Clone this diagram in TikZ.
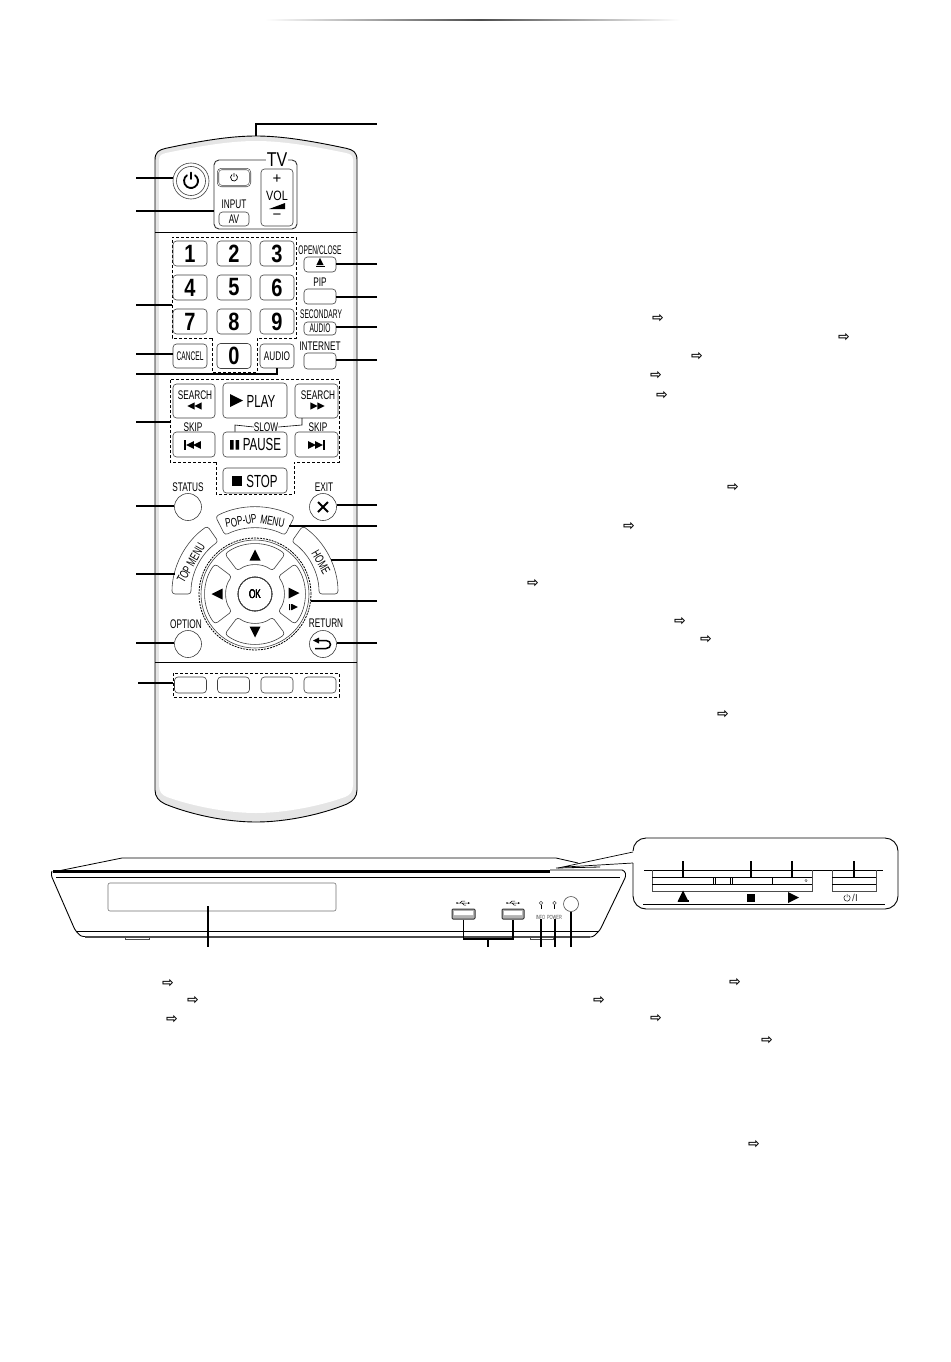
\documentclass[tikz,border=0pt]{standalone}
\usepackage{fontspec}
\setmainfont{Liberation Sans}
\newfontfamily\wideish[FakeStretch=0.8]{Liberation Sans}
\newfontfamily\narrowf[FakeStretch=0.66]{Liberation Sans}
\newfontfamily\tightf[FakeStretch=0.53]{Liberation Sans}
\newfontfamily\symf{DejaVu Sans}
\tikzset{
  btn/.style={draw=black!75, line width=0.6pt, rounded corners=3.5pt, inner sep=0pt, fill=white},
  roundbtn/.style={draw=black!75, line width=0.6pt, circle, inner sep=0pt, minimum size=27pt},
  numbtn/.style={btn, minimum width=34pt, minimum height=25pt, font=\wideish\bfseries\fontsize{25}{25}\selectfont},
  colbtn/.style={btn, minimum width=32pt, minimum height=16pt},
  lab/.style={inner sep=0pt, font=\narrowf\fontsize{12.5}{13}\selectfont},
  labtight/.style={inner sep=0pt, font=\tightf\fontsize{12.5}{13}\selectfont},
  bigtext/.style={inner sep=0pt, font=\narrowf\fontsize{17.5}{18}\selectfont},
  call/.style={line width=1.3pt},
  dashbox/.style={line width=1pt, dash pattern=on 3pt off 2pt},
  refarrow/.style={inner sep=0pt, yshift=-1.5pt, font=\symf\bfseries\fontsize{14}{14}\selectfont},
}
% filled triangle: centre, rotation, size
\newcommand\tri[3]{\fill[shift={(#1)},rotate=#2,scale=#3] (-1,-1) -- (1,0) -- (-1,1) -- cycle;}
% standby symbol: centre, radius, width
\newcommand\standby[3]{\draw[shift={(#1)},line width=#3,line cap=round] (305:#2) arc[start angle=305,end angle=595,radius=#2] (0,-1.2*#2) -- (0,-0.3*#2);}
% button of the ring around the pad: start, end, inner, outer
\newcommand\ringbtn[4]{\draw[draw=black!75,line width=0.6pt,rounded corners=3pt,fill=white] ([shift={(#1:#4)}]pad) arc[start angle=#1,end angle=#2,radius=#4] -- ([shift={(#2:#3)}]pad) arc[start angle=#2,end angle=#1,radius=#3] -- cycle;}
% usb symbol
\newcommand\usbmark[1]{\draw[shift={(#1)},line width=0.5pt] (-6,0) -- (5,0) (-3,0) -- (-1,-2) -- (2,-2) (-1,0) -- (1,2) -- (3,2);\fill[shift={(#1)}] (5,-1) -- (7,0) -- (5,1) -- cycle (-6,0) circle (0.9);}
\begin{document}
\begin{tikzpicture}[x=1pt, y=-1pt]
\useasboundingbox (0,0) rectangle (950,1362);
\fill[white] (0,0) rectangle (950,1362);
% Rule at the top of the page
\shade[left color=white, right color=black!70] (265,19.5) rectangle (480,21);
\shade[left color=black!70, right color=white] (480,19.5) rectangle (680,21);

% Body of the remote
\draw[line width=0.9pt, fill=black!10] (155,160) .. controls (155,152) and (159,150) .. (165,148.5) .. controls (200,141) and (230,136) .. (256,136) .. controls (282,136) and (312,141) .. (347,148.5) .. controls (353,150) and (357,152) .. (357,160) -- (357,790) .. controls (357,797) and (353,801) .. (347,804) .. controls (320,815) and (285,822) .. (256,822) .. controls (227,822) and (192,815) .. (165,804) .. controls (159,801) and (155,797) .. (155,790) -- cycle;
\fill[white] (159,160) .. controls (159,155) and (162,154) .. (166,153) .. controls (200,146) and (230,141) .. (256,141) .. controls (282,141) and (312,146) .. (346,153) .. controls (350,154) and (353,155) .. (353,160) -- (353,785) .. controls (353,792) and (350,795) .. (345,797) .. controls (320,806) and (285,813) .. (256,813) .. controls (227,813) and (192,806) .. (167,797) .. controls (162,795) and (159,792) .. (159,785) -- cycle;
\draw[line width=0.7pt] (155,232) -- (357,232);
\draw[line width=0.7pt] (155,662) -- (357,662);
\coordinate (top-edge) at (256,136);

% Power
\node[circle, draw=black!75, line width=0.6pt, minimum size=36pt, inner sep=0pt] (power) at (191,181) {};
\node[circle, draw=black!75, line width=0.6pt, minimum size=29pt, inner sep=0pt] at (191,181) {};
\standby{191,181}{7}{1.8pt}

% TV group
\draw[draw=black!80, line width=0.9pt, rounded corners=5pt] (214,160) rectangle (297,229);
\node[inner sep=1pt, fill=white, font=\wideish\fontsize{20}{20}\selectfont] (tvlab) at (277,160) {TV};
\node[btn, double, double distance=0.8pt, minimum width=32pt, minimum height=17pt] (tvpower) at (234,177.5) {};
\standby{234,177.5}{3.5}{0.7pt}
\node[lab] (inputlab) at (234,204) {INPUT};
\node[btn, minimum width=30pt, minimum height=14pt, font=\narrowf\fontsize{12.5}{13}\selectfont] (av) at (234,219) {AV};
\node[btn, minimum width=32pt, minimum height=57pt] (vol) at (277,197.5) {};
\node[font=\fontsize{15}{15}\selectfont, inner sep=0pt] (volplus) at (277,179) {+};
\node[inner sep=0pt, font=\wideish\fontsize{13.5}{14}\selectfont] (vollab) at (277,196) {VOL};
\fill (269,209) -- (285,209) -- (285,203) -- cycle;
\node[font=\fontsize{15}{15}\selectfont, inner sep=0pt] (volminus) at (277,217) {−};

% Numbers
\draw[dashbox] (212,338) -- (172,338) -- (172,237) -- (296,237) -- (296,338) -- (257,338) -- (257,372) -- (212,372) -- cycle;
\foreach \n/\x/\y in {1/190/253.5, 2/234/253.5, 3/277/253.5, 4/190/287.5, 5/234/287.5, 6/277/287.5, 7/190/321.5, 8/234/321.5, 9/277/321.5, 0/234/356}
  \node[numbtn] (num\n) at (\x,\y) {\n};
\node[btn, minimum width=34pt, minimum height=24pt, font=\tightf\fontsize{12.5}{13}\selectfont] (cancel) at (190,356) {CANCEL};
\node[btn, minimum width=34pt, minimum height=24pt, font=\narrowf\fontsize{12.5}{13}\selectfont] (audio) at (277,356) {AUDIO};

% Right column
\node[labtight] (openlab) at (320,250) {OPEN/CLOSE};
\node[btn, minimum width=32pt, minimum height=15pt] (eject) at (320,264.5) {};
\tri{320,261.5}{90}{3.6}
\fill (315.5,265.5) rectangle (325,266.8);
\node[lab] (piplab) at (320,282) {PIP};
\node[btn, minimum width=32pt, minimum height=15pt] (pip) at (320,296.5) {};
\node[labtight] (seclab) at (321,314) {SECONDARY};
\node[btn, minimum width=32pt, minimum height=13pt, font=\tightf\fontsize{12.5}{13}\selectfont] (secaudio) at (320,328.5) {AUDIO};
\node[lab] (netlab) at (320,346) {INTERNET};
\node[btn, minimum width=32pt, minimum height=16pt] (internet) at (320,361) {};

% Transport
\draw[dashbox] (216,462) -- (170,462) -- (170,379) -- (339,379) -- (339,462) -- (294,462) -- (294,494) -- (216,494) -- cycle;
\node[btn, minimum width=42pt, minimum height=34pt] (searchback) at (194,401) {};
\node[lab] (searchbacklab) at (195,395) {SEARCH};
\tri{191,406}{180}{3.6}
\tri{198,406}{180}{3.6}
\node[btn, minimum width=64pt, minimum height=35pt] (play) at (255,400.5) {};
\tri{236.5,400.5}{0}{6.5}
\node[bigtext] (playlab) at (261,401) {PLAY};
\node[btn, minimum width=43pt, minimum height=34pt] (searchfwd) at (316.5,401) {};
\node[lab] (searchfwdlab) at (318,395) {SEARCH};
\tri{314,406}{0}{3.6}
\tri{321,406}{0}{3.6}
\node[lab] (skipbacklab) at (193,427) {SKIP};
\node[lab] (slowlab) at (266,427) {SLOW};
\node[lab] (skipfwdlab) at (318,427) {SKIP};
\node[btn, minimum width=42pt, minimum height=25pt] (skipback) at (194,444.5) {};
\fill (184,440) rectangle (185.5,450);
\tri{190,445}{180}{3.8}
\tri{197,445}{180}{3.8}
\node[btn, minimum width=64pt, minimum height=25pt] (pause) at (255,444.5) {};
\fill (230,440) rectangle (233.5,449.5) (235.5,440) rectangle (239,449.5);
\node[bigtext] (pauselab) at (262,444) {PAUSE};
\node[btn, minimum width=43pt, minimum height=25pt] (skipfwd) at (316.5,444.5) {};
\tri{312,445}{0}{3.8}
\tri{319,445}{0}{3.8}
\fill (323,440) rectangle (324.5,450);
\node[btn, minimum width=64pt, minimum height=25pt] (stop) at (255,480.5) {};
\fill (232,475.5) rectangle (242,485.5);
\node[bigtext] (stoplab) at (262,481) {STOP};
\draw[line width=0.6pt] (pause.north -| 235,0) -- (235,425) -- (slowlab.west);
\draw[line width=0.6pt] (slowlab.east) -- (302,425) -- (302,418);

% Status, exit, option, return
\node[lab] (statuslab) at (188,487) {STATUS};
\node[roundbtn] (status) at (188,507) {};
\node[lab] (exitlab) at (324,487) {EXIT};
\node[roundbtn] (exit) at (323,507) {};
\draw[line width=2pt] (318,502) -- (328,512) (328,502) -- (318,512);
\node[lab] (optionlab) at (186,624) {OPTION};
\node[roundbtn] (option) at (188,644) {};
\node[lab] (returnlab) at (326,623) {RETURN};
\node[roundbtn] (return) at (323,644) {};
\draw[line width=1.5pt] (319,640.5) -- (326,640.5) .. controls (332,640.5) and (332,648.5) .. (326,648.5) -- (315,648.5);
\tri{316,640.5}{180}{3}

% Ring round the pad
\coordinate (pad) at (255,594);
\ringbtn{180}{235}{64}{83}
\ringbtn{305}{360}{64}{83}
\ringbtn{243}{297}{66}{87}
\node[lab, rotate=60] (topmenulab) at (191,563) {TOP MENU};
\node[lab, rotate=-60] (homelab) at (321,562) {HOME};
\node[lab, rotate=10] (poplab) at (241,521) {POP-UP};
\node[lab, rotate=-10] (menulab) at (272.5,521.5) {MENU};

% Pad
\node[circle, draw=black, line width=0.8pt, dash pattern=on 2pt off 1pt, minimum size=112pt, inner sep=0pt] (padring) at (pad) {};
\node[circle, draw=black!75, line width=0.6pt, minimum size=108pt, inner sep=0pt] at (pad) {};
\foreach \a in {0,90,180,270}
  \ringbtn{\a-37}{\a+37}{29}{50}
\node[circle, draw=black!75, line width=0.6pt, minimum size=34pt, inner sep=0pt, font=\narrowf\fontsize{12.5}{13}\selectfont] (ok) at (pad) {OK};
\tri{255,555}{90}{5.5}
\tri{217,594}{180}{5.5}
\tri{294,593}{0}{5.5}
\tri{255,632}{270}{5.5}
\fill (289,604) rectangle (290,610) (291,604) rectangle (292,610);
\tri{295,607}{0}{2.8}

% Colour buttons
\draw[dashbox] (173,673) rectangle (339,697);
\foreach \c/\x in {a/190.5, b/233.5, c/277, d/320}
  \node[colbtn] (col\c) at (\x,685) {};

% Connector ends on the left and on the right
\foreach \p/\y in {powerend/178, inputend/211, numend/305, cancelend/354, audioend/374, searchend/422, statusend/506, topmenuend/574, optionend/643}
  \coordinate (\p) at (136,\y);
\coordinate (colend) at (138,683);
\foreach \p/\y in {topend/124, ejectend/264, pipend/297, secend/327, netend/360, exitend/505, popend/526, homeend/560, padend/601, returnend/643}
  \coordinate (\p) at (377,\y);

% Connectors
\draw[call] (top-edge) -- (top-edge |- topend) -- (topend);
\draw[call] (powerend) -- (power.west |- powerend);
\draw[call] (inputend) -- (inputend -| 214,0);
\draw[call] (numend) -- (numend -| 172,0);
\draw[call] (cancelend) -- (cancel.west |- cancelend);
\draw[call] (audioend) -- (audioend -| audio.south) -- (audio.south);
\draw[call] (searchend) -- (searchend -| 170,0);
\draw[call] (statusend) -- (status.west |- statusend);
\draw[call] (topmenuend) -- (topmenuend -| 175,0);
\draw[call] (optionend) -- (option.west |- optionend);
\draw[call] (colend) -- (colend -| 173,0);
\draw[call] (ejectend) -- (eject.east |- ejectend);
\draw[call] (pipend) -- (pip.east |- pipend);
\draw[call] (secend) -- (secaudio.east |- secend);
\draw[call] (netend) -- (internet.east |- netend);
\draw[call] (exitend) -- (exit.east |- exitend);
\draw[call] (popend) -- (popend -| 289,0);
\draw[call] (homeend) -- (homeend -| 331,0);
\draw[call] (padend) -- (padend -| 311,0);
\draw[call] (returnend) -- (return.east |- returnend);

% The player
\draw[line width=0.8pt] (53,872) -- (122,858) -- (556,858) -- (578,863);
\draw[line width=2.6pt] (53,871.5) -- (550,871.5);
\draw[line width=0.8pt] (550,870) -- (622,870) (556,868) -- (600,867);
\draw[line width=0.8pt, rounded corners=2pt] (56,877) -- (620,877);
\draw[line width=0.9pt, rounded corners=2.5pt] (52,871) -- (51,875) -- (75,930) -- (81,936.5) -- (593,937) -- (600,930) -- (626,876) -- (625,871) -- (622,870);
\draw[line width=0.8pt] (77,931) -- (598,931);
\draw[line width=2pt, black!70] (85,936.5) -- (590,936.5);
\draw[black!70, line width=0.5pt, fill=white] (125,937) rectangle (149,939.5) (530,937) rectangle (553,939.5);
\node[draw=black!55, line width=0.6pt, rounded corners=2pt, minimum width=228pt, minimum height=28pt, inner sep=0pt] (disp) at (222,897) {};
\coordinate (disptick) at (208,906);
\coordinate (dispend) at (208,947);
\draw[call] (disptick) -- (dispend);

% Usb, lamps and sensor
\usbmark{463,903}
\usbmark{513,903}
\node[draw=black!80, line width=1pt, fill=black!30, rounded corners=1pt, minimum width=23pt, minimum height=10pt, inner sep=0pt] (usba) at (463.5,914) {};
\node[draw=black!80, line width=1pt, fill=black!30, rounded corners=1pt, minimum width=22pt, minimum height=10pt, inner sep=0pt] (usbb) at (513,914) {};
\fill[white] (454,911) rectangle (473,915) (504,911) rectangle (522,915);
\coordinate (usbfork) at (488,939);
\coordinate (usbend) at (488,947);
\draw[call] (usba.south) -- (usba.south |- usbfork) -- (usbb.south |- usbfork) -- (usbb.south);
\draw[call] (usbfork) -- (usbend);
\node[circle, draw=black!70, line width=0.5pt, minimum size=3.5pt, inner sep=0pt] (infoled) at (541,903) {};
\node[circle, draw=black!70, line width=0.5pt, minimum size=3.5pt, inner sep=0pt] (powerled) at (554.5,903) {};
\draw[line width=0.5pt] (infoled.south) -- ++(0,4) (powerled.south) -- ++(0,4);
\node[inner sep=0pt, text=black!70, font=\narrowf\fontsize{6}{6}\selectfont] (infolab) at (540.5,917) {INFO};
\node[inner sep=0pt, text=black!70, font=\narrowf\fontsize{6}{6}\selectfont] (powerlab) at (554.5,917) {POWER};
\node[circle, draw=black!70, line width=0.6pt, minimum size=15pt, inner sep=0pt] (sensor) at (571,904) {};
\coordinate (infoend) at (541,947);
\coordinate (powerend2) at (555,947);
\coordinate (sensorend) at (571,947);
\draw[call] (infoend) -- (infoend |- infolab.south);
\draw[call] (powerend2) -- (powerend2 |- powerlab.south);
\draw[call] (sensorend) -- (sensor.south);

% Enlarged part of the player
\draw[line width=0.9pt, rounded corners=13pt, fill=white] (633,851) -- (633,838) -- (898,838) -- (898,909) -- (633,909) -- (633,863);
\draw[line width=0.7pt] (633,852) -- (558,868) (633,863) -- (565,867);
\draw[line width=0.6pt] (644,870) -- (883,870);
\draw[line width=0.6pt] (643,904) -- (885,904);
\draw[black!70, line width=0.6pt] (652,870) -- (652,891) -- (812,891) -- (812,870);
\draw[black!70, line width=0.6pt] (832,870) -- (832,891) -- (876,891) -- (876,870);
\draw[line width=0.6pt] (652,877) -- (812,877) (652,884) -- (812,884);
\draw[line width=0.6pt] (832,877) -- (876,877) (832,884) -- (876,884);
\draw[line width=0.6pt] (713,877) -- (713,884) (715,877) -- (715,884) (730,877) -- (730,884) (732,877) -- (732,884) (772,877) -- (772,884);
\draw[black!70, line width=0.4pt] (806,880.5) circle (1.2);
\foreach \x in {683,751,792,854}
  \draw[call] (\x,861) -- (\x,878);
\tri{683,896}{90}{5.5}
\fill (677.5,899.5) rectangle (688.5,902);
\fill (747,894) rectangle (755,902);
\tri{793.5,897.5}{0}{5.5}
\standby{847,898}{3.2}{0.5pt}
\node[inner sep=0pt, text=black!80, font=\fontsize{10}{10}\selectfont] (powerilab) at (855,898) {/I};

% Page references
\foreach \x/\y [count=\i] in {658/317, 844/336, 697/355, 656/374, 662/394, 733/486, 629/525, 533/582, 680/620, 706/638, 723/713, 168/982, 193/999, 172/1018, 735/981, 599/999, 656/1017, 767/1039, 754/1143}
  \node[refarrow] (ref\i) at (\x,\y) {⇨};
\end{tikzpicture}
\end{document}
